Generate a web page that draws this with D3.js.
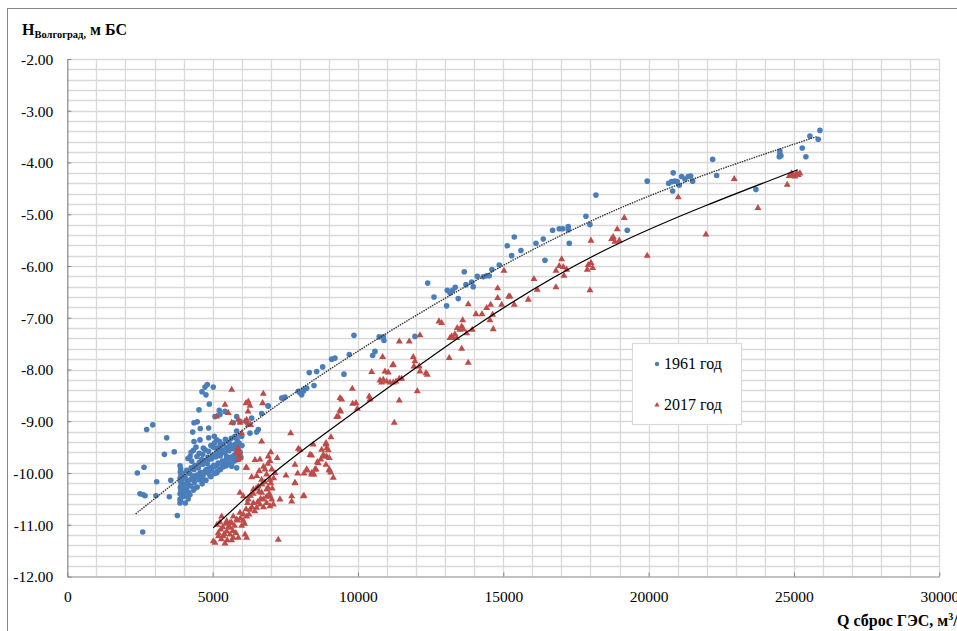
<!DOCTYPE html>
<html>
<head>
<meta charset="utf-8">
<script src="https://cdn.jsdelivr.net/npm/d3@7"></script>
<style>
  body { margin: 0; background: #fff; }
  svg { display: block; font-family: "Liberation Serif", "Times New Roman", serif; }
</style>
</head>
<body>
<svg id="chart" width="957" height="631"></svg>
<script>

// 1961 год: [Q, H]
var data1961 = [
    [2410,-10.00],[2640,-9.89],[2730,-9.16],[2940,-9.07],[2500,-10.40],[2615,-10.42],[2675,-10.44],[2595,-11.14],
    [3075,-10.17],[3050,-10.44],[3420,-9.32],[3340,-9.64],[3680,-9.59],[3560,-10.14],[3510,-10.46],[3785,-10.82],[3877,-10.58],
    [4816,-8.29],[4737,-8.34],[5022,-8.34],[4634,-8.43],[4771,-8.49],[4886,-8.67],[4530,-8.78],[5229,-8.79],
    [4359,-9.03],[4472,-9.01],[4575,-9.14],[4314,-9.21],[4864,-9.13],[4359,-9.39],[4565,-9.36],[4864,-9.32],
    [5057,-9.29],[5139,-9.36],[5827,-8.91],[6906,-8.70],[6170,-9.02],[6343,-8.94],
    [4427,-9.50],[4679,-9.52],[5022,-9.50],[5253,-9.47],[5597,-9.45],[5769,-9.29],[4221,-9.68],[4280,-9.77],
    [4623,-9.74],[4851,-9.74],[5253,-9.64],[5483,-9.68],[5710,-9.71],[5425,-9.84],[5655,-9.87],[5827,-9.90],
    [5883,-9.74],[5827,-9.61],[4909,-10.06],[5139,-10.00],[4623,-10.13],[4393,-10.29],[4107,-10.32],[3990,-10.45],
    [3877,-10.51],[4162,-10.22],[4795,-9.93],[4565,-10.00],[4334,-10.06],
    [3880,-9.86],[3900,-9.92],[3890,-9.98],[3910,-10.04],[3880,-10.10],[3900,-10.16],[3920,-10.22],[3890,-10.28],
    [3910,-10.34],[3880,-10.40],[3940,-10.46],[3900,-10.52],[3960,-10.00],[3950,-10.12],[3970,-10.26],
    [4050,-10.07],[4110,-9.95],[4140,-10.14],[4210,-10.01],[4260,-9.90],[4290,-10.10],[4360,-9.93],[4390,-9.85],
    [4460,-10.04],[4510,-9.90],[4540,-9.80],[4610,-9.99],[4660,-9.83],[4690,-9.76],[4760,-9.95],[4810,-9.81],
    [4840,-9.69],[4910,-9.89],[4960,-9.73],[5010,-9.66],[5040,-9.85],[5110,-9.69],[5160,-9.60],[5190,-9.81],
    [5260,-9.67],[5310,-9.55],[5340,-9.77],[5410,-9.61],[5460,-9.51],[5490,-9.73],[5560,-9.57],[5610,-9.50],
    [5640,-9.69],[5710,-9.53],[5760,-9.45],[5790,-9.65],[5860,-9.51],[5910,-9.42],[5940,-9.61],[6010,-9.47],
    [4000,-10.22],[4070,-10.31],[4130,-10.16],[4170,-10.38],[4240,-10.25],[4270,-10.12],[4340,-10.33],[4370,-10.18],
    [4430,-10.09],[4470,-10.27],[4540,-10.13],[4570,-10.04],[4640,-10.21],[4670,-10.06],[4740,-9.98],[4770,-10.14],
    [4840,-10.00],[4870,-9.92],[4940,-10.07],[4970,-9.95],[5040,-9.88],[5070,-10.01],[5140,-9.86],[5170,-9.96],
    [5240,-9.82],[5270,-9.93],[5340,-9.79],[5370,-9.88],[5440,-9.76],[5470,-9.86],[5540,-9.72],[5570,-9.82],
    [5640,-9.70],[5670,-9.80],[5740,-9.66],[5770,-9.76],[5840,-9.63],[5870,-9.72],[5940,-9.60],[5970,-9.70],
    [4150,-9.72],[4260,-9.60],[4340,-9.56],[4460,-9.68],[4540,-9.62],[4660,-9.64],[4740,-9.55],[4860,-9.58],
    [4940,-9.47],[5060,-9.42],[5140,-9.52],[5240,-9.39],[5360,-9.44],[5440,-9.35],[5560,-9.41],[5640,-9.33],
    [5760,-9.31],[5840,-9.36],[5960,-9.27],[4020,-10.38],[4100,-10.44],[4160,-10.50],[4060,-10.58],[4220,-10.42],
    [5425,-8.81],[5253,-8.87],[5081,-8.91],[5710,-9.03],[5827,-9.19],[5941,-9.00],[5999,-9.29],[6515,-9.21],
    [6571,-9.16],[6285,-9.23],[6686,-8.85],[6915,-8.71],[7375,-8.55],[7489,-8.53],[7431,-8.55],[7946,-8.42],
    [8063,-8.49],[8142,-8.39],[8235,-8.36],[8005,-8.45],[8118,-8.42],[8325,-8.06],[8487,-8.31],[8579,-8.04],
    [8786,-7.95],[9095,-7.80],[9209,-7.78],[9518,-8.09],[9701,-7.71],[9862,-7.34],[10506,-7.73],[10585,-7.65],
    [10733,-7.37],[10871,-7.37],[10894,-7.44],[11961,-7.36],[12398,-6.33],[12615,-6.60],[13051,-6.77],[13072,-6.47],
    [13165,-6.52],[13257,-6.47],[13347,-6.41],[13450,-6.63],[13657,-6.11],[13715,-6.36],[13911,-6.31],[13967,-6.40],
    [14104,-6.20],[14310,-6.21],[14427,-6.19],[14516,-6.19],[14609,-6.07],[14861,-5.98],
    [15136,-5.61],[15287,-5.80],[15377,-5.44],[15607,-5.70],[16123,-5.56],[16374,-5.48],[16433,-5.89],[16697,-5.31],
    [16925,-5.28],[17042,-5.28],[17234,-5.24],[17234,-5.30],[17269,-5.56],[17843,-5.04],[17981,-5.20],[18187,-4.63],
    [19264,-5.31],[19952,-4.36],[20688,-4.40],[20791,-4.37],[20846,-4.20],[20904,-4.36],[20984,-4.37],[21053,-4.44],
    [20826,-4.55],[21135,-4.27],[21249,-4.32],[21363,-4.27],[21445,-4.26],[21514,-4.36],[22202,-3.94],[22340,-4.25],
    [23691,-4.52],[24516,-3.78],[24516,-3.83],[24551,-3.87],[24493,-3.89],[25284,-3.72],[25411,-3.89],[25549,-3.49],
    [25834,-3.55],[25893,-3.38]
];

// 2017 год: [Q, H]
var data2017 = [
    [5081,-11.35],[5022,-11.32],[5425,-11.36],[5194,-11.16],[5277,-11.09],[5367,-11.22],[5483,-11.13],[5597,-11.19],
    [5710,-11.25],[5655,-11.30],[5884,-11.25],[6171,-11.25],[6113,-11.19],[7258,-11.29],
    [5310,-10.84],[5483,-10.93],[5597,-10.96],[5710,-10.84],[5827,-10.90],[5941,-10.77],[6055,-10.80],[6171,-10.84],
    [6285,-10.71],[6400,-10.58],[6515,-10.67],[6629,-10.61],[6743,-10.51],[6858,-10.58],[6973,-10.64],[7087,-10.61],
    [5941,-10.38],[6055,-10.45],[6227,-10.51],[6400,-10.32],[6571,-10.26],[6686,-10.38],[6858,-10.32],[6973,-10.45],
    [7032,-10.51],[6515,-10.06],[6686,-10.13],[6858,-10.03],[6973,-10.13],[6800,-9.93],[7032,-9.93],[7145,-10.00],
    [7317,-10.51],[7719,-10.45],[7719,-10.55],[8142,-10.44],[7833,-10.20],
    [6171,-9.90],[6343,-10.08],[6457,-9.75],[6629,-9.74],[6915,-9.68],[6973,-9.77],[7224,-9.71],[7523,-10.05],
    [7926,-10.01],[8235,-9.93],[8407,-10.00],[8521,-9.93],[8602,-9.79],[8717,-9.74],[8831,-9.68],[8900,-9.84],
    [9013,-9.93],[9151,-10.09],[8349,-9.65],[7946,-9.53],[8751,-9.55],[8900,-9.45],[8979,-9.56],[9071,-9.31],
    [8923,-9.68],[8808,-9.65],[7685,-9.23],[8005,-9.55],
    [5150,-11.00],[5250,-10.95],[5350,-11.05],[5450,-10.98],[5550,-11.04],[5650,-10.96],[5750,-11.02],[5850,-10.92],
    [5950,-10.88],[6050,-10.92],[6150,-10.70],[6250,-10.80],[6350,-10.66],[6450,-10.74],[6550,-10.56],[6650,-10.50],
    [6750,-10.66],[6850,-10.46],[6950,-10.40],[7050,-10.30],[5200,-11.22],[5300,-11.28],[5400,-11.18],[5500,-11.30],
    [5600,-11.06],[5700,-11.12],[5800,-11.16],[6000,-11.02],[6100,-10.98],[6200,-10.58],[6300,-10.44],[6400,-10.40],
    [6500,-10.30],[6600,-10.36],[6700,-10.22],[6800,-10.18],[6900,-10.28],[7000,-10.20],[7100,-10.10],[6600,-9.96],
    [6750,-9.88],[6900,-9.82],[7000,-9.60],
    [5655,-8.39],[5425,-8.68],[6227,-8.62],[6285,-8.70],[6720,-8.65],[6743,-8.47],[5655,-9.03],[5941,-9.03],
    [6113,-9.00],[5999,-9.23],[6308,-9.07],[6686,-9.39],[5884,-9.52],[5884,-9.74],[5827,-9.61],[5941,-9.71],
    [9381,-8.55],[9381,-8.79],[9266,-8.92],[5139,-8.91],[5539,-8.84],[5884,-8.97],[6171,-8.97],[6227,-9.07],
    [6148,-8.65],[6217,-8.81],[5848,-9.55],[5941,-9.64],[6148,-9.90],
    [8407,-9.66],[8463,-9.45],[8900,-9.42],[8923,-9.52],[9013,-9.71],[8635,-9.81],[7833,-9.84],[8142,-10.01],
    [8256,-9.95],[8407,-10.03],[8487,-10.03],[8556,-9.93],[9013,-9.95],[9061,-9.99],[7833,-10.19],[8118,-10.45],
    [11214,-7.91],[11249,-9.03],
    [9322,-8.91],[9405,-8.81],[9439,-8.58],[9818,-8.66],[9931,-8.65],[9976,-8.76],[9804,-8.37],[10389,-8.52],
    [10413,-8.58],[10471,-8.05],[10757,-8.21],[10871,-8.20],[10987,-8.23],[11101,-8.25],[11214,-8.25],[10814,-8.25],
    [10929,-8.04],[11042,-8.06],[10849,-7.76],[11193,-7.92],[11307,-8.23],[11421,-8.18],[11503,-8.18],[11421,-7.46],
    [11765,-7.46],[11421,-8.60],[11902,-7.76],[11961,-7.84],[11926,-7.94],[12109,-7.94],[12133,-8.04],[12339,-8.07],
    [12384,-8.10],[12040,-8.42],[12133,-7.34],[12787,-7.07],[12879,-7.10],[13140,-7.78],[13165,-7.39],[13223,-7.36],
    [13278,-7.39],[13395,-7.39],[13336,-7.32],[13416,-7.20],[13508,-7.23],[13567,-7.17],[13602,-7.05],[13622,-7.22],
    [13567,-7.60],[13739,-7.30],[13794,-7.87],[13794,-6.74],[13932,-7.23],[14059,-6.93],[14266,-6.93],[14427,-6.81],
    [14564,-6.75],[14633,-6.94],[14541,-7.05],[14654,-7.22],[14805,-6.43],[14805,-6.62],
    [14944,-6.75],[15022,-6.09],[15184,-6.59],[15229,-6.59],[15377,-6.75],[15858,-6.65],[16054,-6.25],[16168,-6.46],
    [16811,-6.41],[16811,-6.09],[16925,-6.00],[17007,-5.87],[17063,-6.02],[17180,-6.07],[17087,-6.19],[17888,-6.07],
    [17922,-5.98],[18015,-5.94],[18074,-6.04],[17981,-6.47],[18015,-5.51],[18727,-5.48],[18782,-5.44],[18841,-5.53],
    [18920,-5.29],[18989,-5.51],[19161,-5.07],
    [19952,-5.80],[21019,-4.67],[21971,-5.39],[22945,-4.32],[23760,-4.88],[24768,-4.43],[24837,-4.26],[24906,-4.26],
    [24975,-4.24],[25033,-4.27],[25091,-4.21],[25146,-4.24],[25204,-4.21],[24920,-4.21]
];

// trend lines
var trend1961 = [[2350,-10.79],[7320,-8.65],[12920,-6.65],[19020,-4.88],[25780,-3.50]];
var trend2017 = [[5020,-11.06],[7320,-9.90],[10080,-8.74],[14210,-7.10],[19020,-5.55],[25130,-4.14]];

var xTicks = [0, 5000, 10000, 15000, 20000, 25000, 30000];
var yTicks = [-2, -3, -4, -5, -6, -7, -8, -9, -10, -11, -12];
var seriesNames = ['1961 год', '2017 год'];

var blue = '#4a7ebb',
    red = '#be4b48',
    gridColor = '#d9d9d9',
    axisColor = '#868686';

var svg = d3.select('#chart');

var xScale = d3.scaleLinear().domain([0, 30000]).range([67.3, 939.3]);
var yScale = d3.scaleLinear().domain([-12, -2]).range([576.5, 59]);

// outer frame of the chart
svg.append('rect')
    .attr('x', 7.5).attr('y', 8.5)
    .attr('width', 1000).attr('height', 700)
    .attr('fill', '#fff')
    .attr('stroke', axisColor)
    .attr('stroke-width', 1);

// gridlines
var grid = svg.append('g').attr('class', 'grid');

grid.selectAll('line.v')
    .data(d3.range(1000, 30001, 1000))
    .enter().append('line')
    .attr('x1', function (d) { return Math.round(xScale(d)) + 0.5; })
    .attr('x2', function (d) { return Math.round(xScale(d)) + 0.5; })
    .attr('y1', yScale(-2))
    .attr('y2', yScale(-12))
    .attr('stroke', gridColor)
    .attr('stroke-width', 1.3);

grid.selectAll('line.h')
    .data(d3.range(-11.8, -1.9, 0.2))
    .enter().append('line')
    .attr('x1', xScale(0))
    .attr('x2', xScale(30000))
    .attr('y1', function (d) { return Math.round(yScale(d)) + 0.5; })
    .attr('y2', function (d) { return Math.round(yScale(d)) + 0.5; })
    .attr('stroke', gridColor)
    .attr('stroke-width', 1.3);

// axes (plain hyphen for minus, as in the original)
var xAxis = d3.axisBottom(xScale).tickValues(xTicks).tickSizeInner(-4).tickSizeOuter(0).tickPadding(14)
    .tickFormat(function (d) { return String(d); });
var yAxis = d3.axisLeft(yScale).tickValues(yTicks).tickSizeInner(-4).tickSizeOuter(0).tickPadding(14)
    .tickFormat(function (d) { return d.toFixed(2); });

var gx = svg.append('g')
    .attr('transform', 'translate(0,' + yScale(-12) + ')')
    .call(xAxis);
var gy = svg.append('g')
    .attr('transform', 'translate(' + xScale(0) + ',0)')
    .call(yAxis);

[gx, gy].forEach(function (g) {
    g.select('.domain').attr('stroke', axisColor).attr('stroke-width', 1.2);
    g.selectAll('.tick line').attr('stroke', axisColor);
    g.selectAll('.tick text')
        .attr('font-family', '"Liberation Serif", serif')
        .attr('font-size', 15.5)
        .attr('fill', '#000');
});
gy.selectAll('.tick text').attr('dy', '0.35em');

// points
svg.append('g').selectAll('circle')
    .data(data1961)
    .enter().append('circle')
    .attr('cx', function (d) { return xScale(d[0]); })
    .attr('cy', function (d) { return yScale(d[1]); })
    .attr('r', 2.8)
    .attr('fill', blue);

var tri = d3.symbol().type(d3.symbolTriangle).size(21);

svg.append('g').selectAll('path')
    .data(data2017)
    .enter().append('path')
    .attr('d', tri)
    .attr('transform', function (d) {
        return 'translate(' + xScale(d[0]) + ',' + yScale(d[1]) + ')';
    })
    .attr('fill', red);

// trend lines
var line = d3.line()
    .x(function (d) { return xScale(d[0]); })
    .y(function (d) { return yScale(d[1]); })
    .curve(d3.curveNatural);

svg.append('path')
    .datum(trend1961)
    .attr('d', line)
    .attr('fill', 'none')
    .attr('stroke', '#3a3a3a')
    .attr('stroke-width', 1.4)
    .attr('stroke-dasharray', '1.5,1');

svg.append('path')
    .datum(trend2017)
    .attr('d', line)
    .attr('fill', 'none')
    .attr('stroke', '#000')
    .attr('stroke-width', 1.2);

// legend
var legend = svg.append('g');
legend.append('rect')
    .attr('x', 632.5).attr('y', 343.5)
    .attr('width', 109).attr('height', 81)
    .attr('fill', '#fff')
    .attr('stroke', gridColor)
    .attr('stroke-width', 1.2);

legend.append('circle')
    .attr('cx', 657).attr('cy', 364)
    .attr('r', 2.2)
    .attr('fill', blue);
legend.append('path')
    .attr('d', d3.symbol().type(d3.symbolTriangle).size(12))
    .attr('transform', 'translate(657,405)')
    .attr('fill', red);

legend.selectAll('text')
    .data(seriesNames)
    .enter().append('text')
    .attr('x', 664)
    .attr('y', function (d, i) { return i === 0 ? 369 : 410; })
    .attr('font-size', 16)
    .text(function (d) { return d; });

// axis titles
var yTitle = svg.append('text')
    .attr('x', 22).attr('y', 35)
    .attr('font-weight', 'bold')
    .attr('font-size', 16);
yTitle.append('tspan').text('H');
yTitle.append('tspan').attr('font-size', 10.5).attr('dy', 3).text('Волгоград,');
yTitle.append('tspan').attr('dy', -3).text(' м БС');

var xTitle = svg.append('text')
    .attr('x', 837).attr('y', 626)
    .attr('font-weight', 'bold')
    .attr('font-size', 16);
xTitle.append('tspan').text('Q сброс ГЭС, м');
xTitle.append('tspan').attr('font-size', 10).attr('dy', -6).text('3');
xTitle.append('tspan').attr('dy', 6).text('/с');

</script>
</body>
</html>
